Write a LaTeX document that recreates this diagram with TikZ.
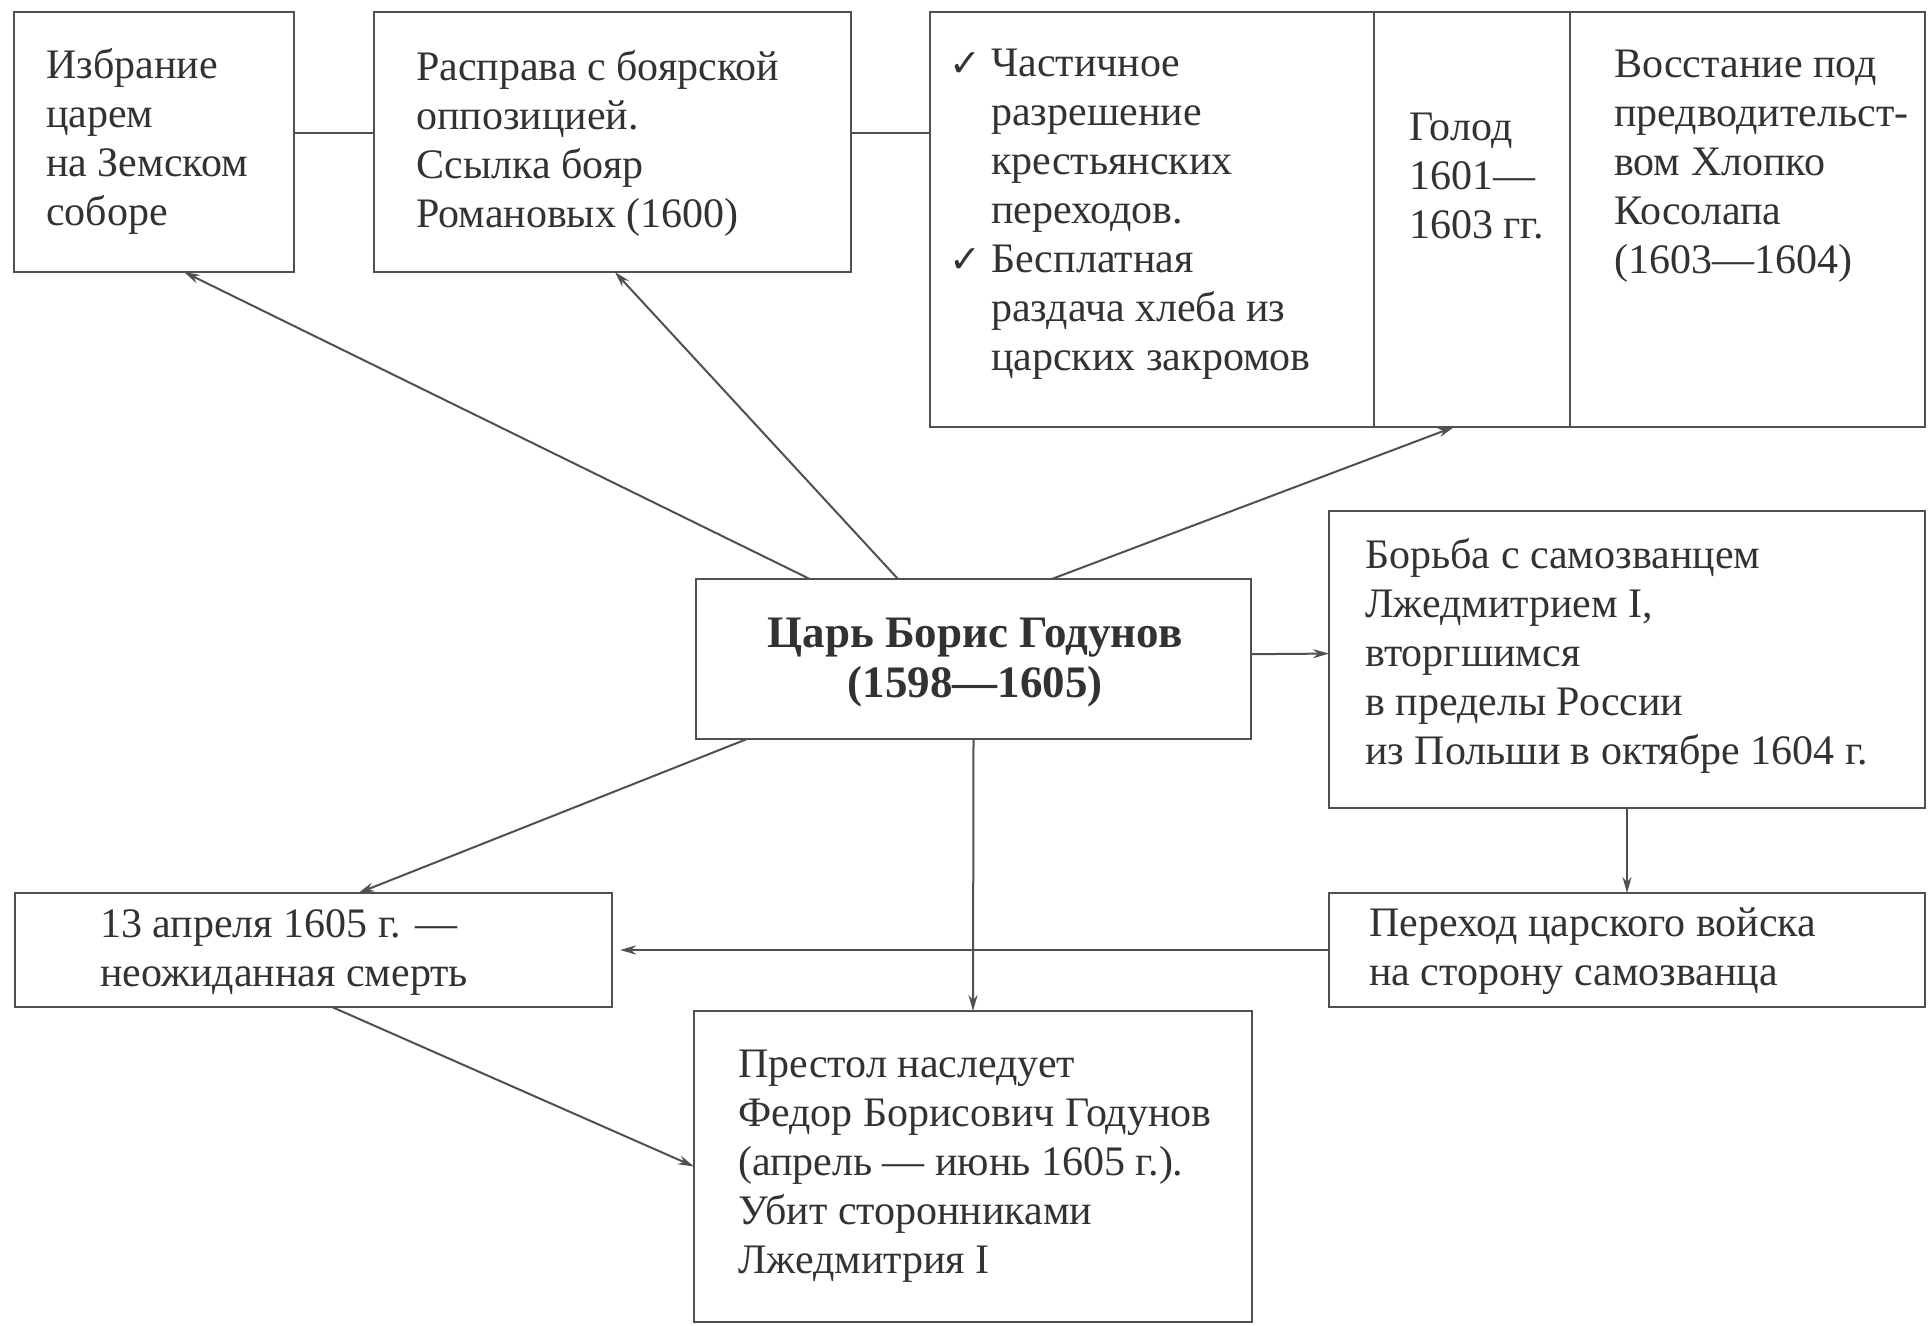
\documentclass[tikz,border=0pt]{standalone}
\usepackage{fontspec}
\setmainfont{Liberation Serif}
\newfontfamily\symfont{DejaVu Sans}
\usetikzlibrary{arrows.meta,calc}
\definecolor{ink}{RGB}{50,50,50}
\definecolor{frame}{RGB}{80,80,80}
\newcommand{\blk}[1]{\begin{tabular}[t]{@{}l@{}}#1\end{tabular}}
\newcommand{\ck}{\llap{{\symfont\fontsize{38}{38}\selectfont ✓}\hspace{10pt}}}
\begin{document}
\begin{tikzpicture}[x=1pt,y=-1pt,
  font=\fontsize{42}{49}\selectfont,
  box/.style={draw=frame, line width=2.8pt, inner sep=0pt, outer sep=0pt, anchor=north west},
  txt/.style={anchor=base west, inner sep=0pt, text=ink},
  arr/.style={draw=frame, line width=2pt, -{Stealth[length=16pt,width=9pt]}},
  link/.style={draw=frame, line width=2.8pt}]
\useasboundingbox (0,0) rectangle (1929,1325);
% boxes
\node[box, minimum width=280pt, minimum height=260pt] (b1) at (14,12) {};
\node[box, minimum width=477pt, minimum height=260pt] (b2) at (374,12) {};
\node[box, minimum width=444pt, minimum height=415pt] (b3a) at (930,12) {};
\node[box, minimum width=196pt, minimum height=415pt] (b3b) at (1374,12) {};
\node[box, minimum width=355pt, minimum height=415pt] (b3c) at (1570,12) {};
\node[box, minimum width=555pt, minimum height=160pt] (c) at (696,579) {};
\node[box, minimum width=596pt, minimum height=297pt] (r1) at (1329,511) {};
\node[box, minimum width=596pt, minimum height=114pt] (r2) at (1329,893) {};
\node[box, minimum width=597pt, minimum height=114pt] (l1) at (15,893) {};
\node[box, minimum width=558pt, minimum height=311pt] (bt) at (694,1011) {};
% texts
\node[txt] (t1) at (46,78) {\blk{Избрание\\царем\\на Земском\\соборе}};
\node[txt] (t2) at (416,80) {\blk{Расправа с боярской\\оппозицией.\\Ссылка бояр\\Романовых (1600)}};
\node[txt] (t3a) at (991,76) {\blk{\ck Частичное\\разрешение\\крестьянских\\переходов.\\\ck Бесплатная\\раздача хлеба из\\царских закромов}};
\node[txt] (t3b) at (1409,140) {\blk{Голод\\1601—\\1603 гг.}};
\node[txt] (t3c) at (1614,77) {\blk{Восстание под\\предводительст-\\вом Хлопко\\Косолапа\\(1603—1604)}};
\node[txt, anchor=base] (tc) at (975,647) {\fontsize{45}{50}\selectfont\bfseries\begin{tabular}[t]{@{}c@{}}Царь Борис Годунов\\(1598—1605)\end{tabular}};
\node[txt] (tr1) at (1365,568) {\blk{Борьба с самозванцем\\Лжедмитрием I,\\вторгшимся\\в пределы России\\из Польши в октябре 1604 г.}};
\node[txt] (tr2) at (1369,936) {\blk{Переход царского войска\\на сторону самозванца}};
\node[txt] (tl1) at (100,937) {\blk{13 апреля 1605 г. —\\неожиданная смерть}};
\node[txt] (tbt) at (738,1077) {\blk{Престол наследует\\Федор Борисович Годунов\\(апрель — июнь 1605 г.).\\Убит сторонниками\\Лжедмитрия I}};
% links between top boxes
\coordinate (l12a) at ($(b1.north east)!0.465!(b1.south east)$);
\coordinate (l23a) at ($(b2.north east)!0.465!(b2.south east)$);
\draw[link] (l12a) -- (l12a -| b2.west);
\draw[link] (l23a) -- (l23a -| b3a.west);
% arrows
\draw[arr] ($(c.north west)!0.205!(c.north east)$) -- ($(b1.south west)!0.607!(b1.south east)$);
\draw[arr] ($(c.north west)!0.364!(c.north east)$) -- ($(b2.south west)!0.505!(b2.south east)$);
\draw[arr] ($(c.north west)!0.641!(c.north east)$) -- ($(b3b.south west)!0.408!(b3b.south east)$);
\draw[arr] ($(c.south west)!0.092!(c.south east)$) -- ($(l1.north west)!0.575!(l1.north east)$);
\draw[arr] (c.south) -- (bt.north);
\draw[arr] ($(c.north east)!0.47!(c.south east)$) -- ($(r1.north west)!0.48!(r1.south west)$);
\draw[arr] (r1.south) -- (r2.north);
\draw[arr, line width=2.8pt, shorten >=8pt] (r2.west) -- (l1.east);
\draw[arr] ($(l1.south west)!0.531!(l1.south east)$) -- (bt.west);
\end{tikzpicture}
\end{document}
